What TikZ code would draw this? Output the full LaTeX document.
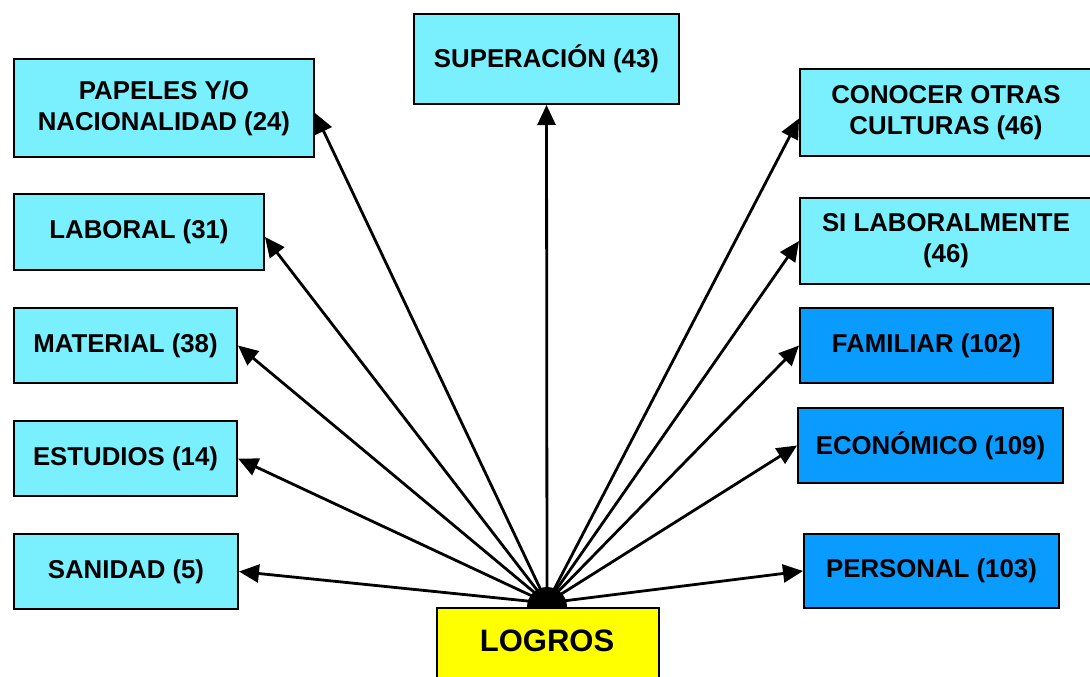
\documentclass[tikz,border=0pt]{standalone}
\usepackage{fontspec}
\setmainfont{Liberation Sans}
\usetikzlibrary{arrows.meta}
\definecolor{lightcyan}{RGB}{122,240,255}
\definecolor{midblue}{RGB}{10,155,255}
\definecolor{rootyellow}{RGB}{255,255,0}
\begin{document}
\begin{tikzpicture}[x=1pt,y=-1pt,
  box/.style={draw=black,line width=2pt,fill=lightcyan,anchor=north west,
    inner sep=0pt,align=center,font=\fontsize{25.8}{31}\selectfont\bfseries},
  darkbox/.style={box,fill=midblue},
  link/.style={line width=2.8pt,-{Triangle[length=20pt,width=18pt]}}]
\useasboundingbox (0,0) rectangle (1090,677);
\clip (0,0) rectangle (1090,677);

% left column
\node[box,minimum width=300,minimum height=98] (pap) at (13,58) {PAPELES Y/O\\NACIONALIDAD (24)};
\node[box,minimum width=250,minimum height=76] (lab) at (13,193) {LABORAL (31)};
\node[box,minimum width=223,minimum height=75] (mat) at (13,307) {MATERIAL (38)};
\node[box,minimum width=223,minimum height=75] (est) at (13,420) {ESTUDIOS (14)};
\node[box,minimum width=224,minimum height=75] (san) at (13,533) {SANIDAD (5)};

% top
\node[box,minimum width=265,minimum height=90] (sup) at (413,13) {SUPERACIÓN (43)};

% right column
\node[box,minimum width=292,minimum height=87] (con) at (799,68) {CONOCER OTRAS\\CULTURAS (46)};
\node[box,minimum width=292,minimum height=86] (sil) at (799,197) {SI LABORALMENTE\\(46)};
\node[darkbox,minimum width=253,minimum height=75] (fam) at (799,307) {FAMILIAR (102)};
\node[darkbox,minimum width=265,minimum height=75] (eco) at (797,407) {ECONÓMICO (109)};
\node[darkbox,minimum width=255,minimum height=74] (per) at (803,533) {PERSONAL (103)};

% root
\node[draw=black,line width=2pt,fill=rootyellow,anchor=north west,inner sep=0pt,
  minimum width=222,minimum height=100] (log) at (436,607) {};
\node[font=\fontsize{31}{31}\selectfont\bfseries,inner sep=0pt] (logt) at (547,641) {LOGROS};

\coordinate (o) at (547,603);

% connectors
\draw[link] (o) -- ([yshift=-5]pap.east);
\draw[link] (o) -- ([yshift=-5]lab.east);
\draw[link] (o) -- (mat.east);
\draw[link] (o) -- (est.east);
\draw[link] (o) -- (san.east);
\draw[link] (o) -- (sup.south);
\draw[link] (o) -- ([yshift=-6]con.west);
\draw[link] (o) -- (sil.west);
\draw[link] (o) -- (fam.west);
\draw[link] (o) -- (eco.west);
\draw[link] (o) -- (per.west);

% joint where the connectors leave the root
\fill[black] (527,607) arc[start angle=180,end angle=360,radius=20] -- cycle;
\end{tikzpicture}
\end{document}
